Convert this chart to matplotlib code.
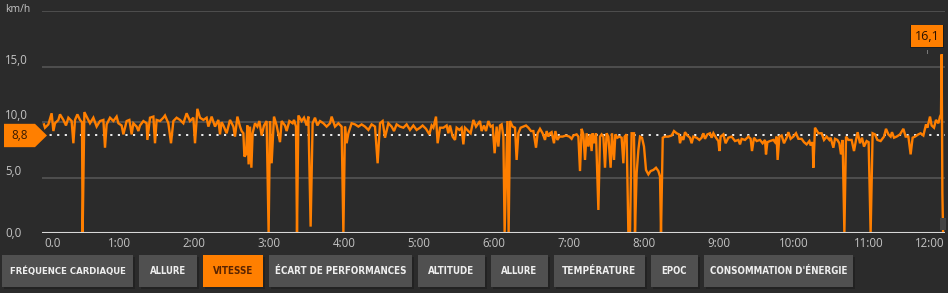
import numpy as np
import matplotlib
matplotlib.use("Agg")
import matplotlib.pyplot as plt
from matplotlib import font_manager
from matplotlib.patches import Rectangle, Polygon
from matplotlib.transforms import blended_transform_factory

# speed trace: time (s) and speed (km/h)
t_sec = [0, 0.8, 3.5, 6.1, 7.5, 8.8, 11.5, 12.8, 15.5, 17.6, 19.5, 22.1, 23.5, 24.8, 26.7, 28.8, 30.4, 30.9, 32.3, 34.1,
         36.8, 39.5, 42.1, 44.8, 47.5, 48.8, 50.1, 52.8, 55.5, 58.1, 59.5, 62.1, 63.5, 66.1, 68.3, 70.1, 71.5, 74.1, 75.5, 76.8,
         79.5, 82.1, 82.7, 84.8, 87.5, 88.8, 90.1, 92.8, 95.5, 96.8, 99.5, 101.6, 103.5, 106.1, 108.8, 111.5, 114.1, 116.8, 119.5, 120.8,
         122.7, 124.8, 127.5, 130.1, 131.5, 134.1, 136.8, 139.5, 140.8, 142.1,
         143.5, 146.1, 148.8, 151.5, 152.8, 154.7, 156.8, 158.1, 159.5, 160.3, 161.6, 162.7, 163.7, 164.8, 165.9, 166.9, 168.8, 170.7,
         172.3, 174.1, 176.0, 178.1, 179.7, 180.8, 182.1, 184.0, 186.1, 188.8, 190.1, 192.8, 194.1, 196.3, 198.9, 200.0, 201.6, 202.4,
         203.5, 206.1, 208.0, 210.1, 211.5, 213.3, 214.9, 216.8, 218.7, 220.8, 223.5, 226.1, 228.8, 230.1, 232.8, 235.5, 238.1, 239.5,
         240.8, 242.1, 243.5, 246.1, 248.8, 251.5, 254.1, 256.8, 259.5, 262.1, 264.8, 266.9, 268.8, 270.9, 272.8, 275.5, 278.1, 280.0,
         282.1, 284.8, 287.5,
         290.1, 292.8, 295.5, 298.1, 300.8, 302.9, 305.6, 308.3, 310.1, 311.5, 313.6, 314.9, 316.8, 319.5, 322.1, 323.5, 324.8, 326.9,
         328.8, 330.1, 332.3, 334.1, 335.5, 336.8, 339.5, 341.3, 343.5, 345.6, 348.8, 350.1, 352.0, 353.6, 355.5, 357.3, 358.9, 360.5,
         362.1, 363.5, 364.8, 366.1, 367.5, 368.5, 369.6, 370.7, 371.7, 372.8, 374.9, 376.8, 378.1, 379.5, 381.3, 383.5, 385.6, 387.5,
         389.6, 391.5, 393.6, 394.9, 396.8, 398.9, 400.8, 402.1, 403.5, 404.8, 406.1, 408.0, 409.1, 410.7, 412.3, 414.9, 417.6, 420.3,
         422.1, 423.5, 426.1, 427.5, 428.8, 430.1,
         431.5, 432.8, 434.1, 435.5, 436.8, 438.1, 438.9, 440.0, 441.6, 443.5, 444.8, 446.1, 447.5, 448.8, 450.1, 451.5, 453.3, 454.4,
         456.0, 457.1, 458.7, 460.3, 462.1, 463.5, 464.5, 466.1, 467.5, 468.8, 470.1, 472.0, 472.8, 474.1, 475.5, 476.8, 478.4, 480.0,
         481.6, 483.5, 485.3, 487.5, 489.6, 491.5, 492.8, 493.6, 495.0, 496.8, 499.5, 502.1, 504.0, 506.1, 508.0, 508.8, 510.1, 511.5,
         512.8, 514.7, 516.8, 518.1, 519.5, 522.1, 524.3, 526.1, 527.5, 528.8, 530.7, 532.8, 534.1, 535.5, 537.6, 539.5, 540.3, 541.3,
         543.5, 545.3, 547.5, 550.1, 552.8, 555.5, 556.8, 558.1, 560.8, 563.5, 565.3, 566.4, 568.0, 570.1, 572.8,
         574.9, 576.8, 577.6, 578.7, 580.8, 583.5, 584.8, 586.1, 586.9, 588.3, 590.1, 592.0, 594.1, 595.5, 597.3, 599.5, 601.6, 603.5,
         606.1, 608.0, 610.1, 612.3, 613.3, 614.9, 615.5, 616.8, 619.5, 622.1, 624.0, 626.1, 628.3, 629.3, 631.5, 632.8, 634.7, 636.3,
         637.6, 638.9, 640.3, 641.6, 643.5, 646.1, 648.0, 649.6, 650.9, 652.8, 654.4, 656.0, 658.1, 659.7, 661.3, 662.9, 664.8, 666.7,
         669.3, 672.0, 673.6, 675.5, 677.3, 678.4, 680.0, 682.1, 684.8, 687.5, 689.3, 691.5, 693.3, 694.9, 696.8, 699.5, 701.3, 703.5,
         705.6, 706.7, 708.8, 710.1, 712.0, 713.6, 715.5, 716.8, 717.6, 718.1, 718.7, 719.3]
speed = [9.8, 9.5, 9.8, 10.8, 9.2, 9.9, 10.2, 10.7, 10.2, 9.7, 10.4, 10.1, 8.1, 10.2, 10.7, 10.2, 10.0, 0.0, 10.9, 10.5,
         9.9, 10.4, 9.6, 10.1, 10.2, 7.7, 9.8, 10.4, 10.1, 10.5, 9.9, 9.7, 8.9, 10.1, 10.2, 8.9, 9.9, 9.6, 9.2, 9.7,
         10.1, 9.9, 8.4, 10.4, 10.5, 8.1, 10.2, 10.1, 10.4, 10.6, 9.9, 8.1, 10.1, 10.4, 10.2, 9.9, 10.8, 10.1, 10.4, 8.1,
         11.2, 10.4, 10.2, 10.4, 9.6, 10.5, 9.6, 10.2, 8.9, 10.0,
         9.7, 9.0, 10.2, 9.6, 8.7, 10.5, 9.6, 9.2, 9.0, 6.9, 7.1, 9.7, 6.2, 9.6, 5.9, 9.0, 9.9, 9.6,
         10.1, 8.8, 9.7, 10.1, 0.0, 10.1, 6.3, 10.5, 9.7, 8.2, 10.1, 9.7, 9.2, 10.1, 9.9, 10.2, 9.6, 0.0,
         10.6, 10.1, 10.4, 9.7, 10.5, 0.6, 9.9, 10.4, 9.7, 10.1, 9.9, 9.6, 9.9, 10.5, 9.6, 9.9, 9.6, 0.0,
         9.6, 8.1, 9.0, 9.9, 9.8, 9.6, 9.8, 9.6, 9.3, 9.8, 9.6, 6.3, 9.9, 10.1, 8.6, 9.9, 9.6, 9.2,
         9.8, 9.6, 9.5,
         9.8, 9.3, 9.7, 9.3, 9.5, 9.7, 9.4, 8.9, 9.7, 9.5, 10.5, 8.1, 9.5, 9.5, 9.7, 9.0, 9.7, 8.7,
         8.4, 9.5, 9.3, 9.5, 8.0, 9.5, 9.2, 9.0, 10.2, 9.6, 10.1, 9.2, 9.7, 9.2, 10.1, 9.6, 9.7, 7.2,
         9.6, 7.8, 9.7, 9.8, 8.7, 0.0, 5.1, 10.1, 0.0, 10.1, 9.6, 9.5, 6.6, 9.0, 9.5, 9.6, 9.7, 9.5,
         9.2, 9.2, 7.7, 9.0, 9.4, 9.0, 8.4, 9.2, 8.7, 9.0, 9.1, 8.1, 9.2, 8.4, 8.7, 8.7, 8.8, 8.7,
         8.5, 8.8, 8.9, 8.7, 5.6, 9.4,
         8.9, 6.6, 9.0, 7.8, 8.9, 7.4, 9.0, 8.1, 9.0, 2.1, 8.7, 8.9, 8.7, 5.9, 9.0, 8.7, 5.9, 9.0,
         6.6, 8.9, 8.6, 8.7, 8.6, 6.3, 8.7, 8.9, 0.0, 0.0, 9.0, 9.0, 0.0, 5.4, 7.5, 8.7, 8.6, 7.8,
         5.7, 5.3, 5.6, 5.7, 5.9, 5.6, 5.1, 0.0, 8.6, 8.7, 8.7, 8.8, 9.2, 9.0, 8.9, 8.1, 8.7, 8.4,
         9.1, 8.8, 8.6, 8.1, 8.7, 8.6, 8.4, 8.6, 9.0, 8.5, 8.9, 9.0, 8.6, 9.0, 8.6, 8.3, 7.4, 8.7,
         8.9, 8.1, 8.6, 8.7, 8.3, 8.4, 8.0, 8.5, 8.4, 8.7, 8.5, 7.4, 8.6, 8.3, 8.4,
         8.1, 8.4, 7.1, 8.2, 8.3, 8.4, 8.2, 8.7, 6.6, 8.7, 8.8, 8.1, 8.6, 9.1, 8.5, 8.7, 9.0, 8.5,
         8.5, 8.2, 8.0, 8.3, 7.9, 8.2, 5.9, 9.5, 9.0, 9.0, 8.4, 8.7, 8.4, 8.6, 7.7, 8.5, 8.4, 8.1,
         7.1, 8.4, 0.0, 8.7, 8.4, 8.4, 7.4, 8.4, 9.1, 8.1, 8.6, 7.8, 8.3, 8.2, 0.0, 9.0, 8.9, 8.4,
         8.3, 8.7, 9.4, 8.9, 8.7, 9.1, 8.6, 8.7, 8.9, 9.4, 8.7, 8.7, 7.1, 8.6, 8.7, 8.9, 9.0, 8.8,
         9.8, 9.5, 10.5, 9.7, 9.5, 10.2, 9.9, 10.5, 10.7, 16.1, 3.6, 0.0]

avg_speed = 8.8
y_ticks = [0, 5, 10, 15]
y_labels = ["0,0", "5,0", "10,0", "15,0"]
x_ticks = [0, 60, 120, 180, 240, 300, 360, 420, 480, 540, 600, 660, 720]
x_labels = ["0.0", "1:00", "2:00", "3:00", "4:00", "5:00", "6:00", "7:00", "8:00", "9:00", "10:00", "11:00", "12:00"]
buttons = ["FRÉQUENCE CARDIAQUE", "ALLURE", "VITESSE", "ÉCART DE PERFORMANCES", "ALTITUDE",
           "ALLURE", "TEMPÉRATURE", "EPOC", "CONSOMMATION D'ÉNERGIE"]
active_button = "VITESSE"

W, H = 948, 293
BG = "#2b2b2b"
ORANGE = "#ff7f00"
GRID = "#555555"
LABEL = "#c4c4c4"

names = {f.name for f in font_manager.fontManager.ttflist}
narrow = "Liberation Sans Narrow" if "Liberation Sans Narrow" in names else "DejaVu Sans"

fig = plt.figure(figsize=(W / 100, H / 100), dpi=100, facecolor=BG)
ax = fig.add_axes([42 / W, (H - 233.3) / H, (945 - 42) / W, (233.3 - 11) / H])
ax.set_facecolor(BG)
ax.set_xlim(-1.6, 720.8)
ax.set_ylim(0, 20)
for s in ax.spines.values():
    s.set_visible(False)

for v in [5, 10, 15, 20]:
    ax.axhline(v, color=GRID, lw=1.2, zorder=1)
ax.axhline(0, color="#d8d8d8", lw=1.5, zorder=4)
ax.axhline(avg_speed, color="white", lw=1.3, ls=(0, (1.2, 3)), zorder=2)

ax.plot(t_sec, speed, color=ORANGE, lw=1.7, zorder=3, solid_joinstyle="miter")

ax.set_xticks(x_ticks)
ax.set_xticklabels(x_labels, color=LABEL, fontsize=8.3, family="Open Sans")
ax.tick_params(axis="x", length=0, pad=3)
xl = ax.get_xticklabels()
xl[0].set_ha("left")
xl[-1].set_ha("right")
ax.set_yticks([])

# y labels drawn at the left edge of the figure
ytr = blended_transform_factory(fig.transFigure, ax.transData)
for v, lab in zip(y_ticks, y_labels):
    ax.text(5 / W, v, lab, transform=ytr, color=LABEL, fontsize=8.3, family="Open Sans",
            ha="left", va="bottom" if v > 0 else "center")
fig.text(5 / W, (H - 10) / H, "km/h", color=LABEL, fontsize=7.5, family="Open Sans", ha="left", va="center")

# average tag on the left
pts = [(4 / W, avg_speed + 1.05), (35 / W, avg_speed + 1.05), (47 / W, avg_speed),
       (35 / W, avg_speed - 1.05), (4 / W, avg_speed - 1.05)]
ax.add_patch(Polygon(pts, closed=True, transform=ytr, facecolor=ORANGE, edgecolor="none",
                     clip_on=False, zorder=6))
ax.text(20 / W, avg_speed, f"{avg_speed:.1f}".replace(".", ","), transform=ytr,
        color="#3a1a00", fontsize=8.5, family="Open Sans", ha="center", va="center", zorder=7)

# max tag on the right
imax = int(np.argmax(speed))
vmax = speed[imax]
fig.add_artist(Rectangle((910 / W, (H - 48) / H), 34 / W, 23 / H, transform=fig.transFigure,
                         facecolor="#1e1e1e", edgecolor="none"))
fig.add_artist(Rectangle((911 / W, (H - 47) / H), 32 / W, 22 / H, transform=fig.transFigure,
                         facecolor=ORANGE, edgecolor="none"))
fig.text(927 / W, (H - 36) / H, f"{vmax:.1f}".replace(".", ","), color="#2a1200", fontsize=9,
         family="Open Sans", ha="center", va="center")
fig.add_artist(Rectangle((926.5 / W, (H - 54) / H), 1.2 / W, 4 / H, transform=fig.transFigure,
                         facecolor="#777777", edgecolor="none"))
fig.add_artist(Rectangle((940 / W, (H - 230) / H), 6 / W, 12 / H, transform=fig.transFigure,
                         facecolor="#444444", edgecolor="none"))

# buttons row
btn_x = [2, 139, 203, 269, 418, 491, 554, 651, 704]
btn_w = [131, 58, 60, 143, 67, 57, 91, 47, 149]
btn_text_w = [105, 33, 36, 118, 42, 33, 66, 23, 124]
fig.canvas.draw()
rend = fig.canvas.get_renderer()
for bx, bw, tw, lab in zip(btn_x, btn_w, btn_text_w, buttons):
    active = lab == active_button
    fig.add_artist(Rectangle(((bx + 2) / W, (H - 289) / H), bw / W, 32 / H, transform=fig.transFigure,
                             facecolor="#222222", edgecolor="none"))
    fig.add_artist(Rectangle((bx / W, (H - 287) / H), bw / W, 32 / H, transform=fig.transFigure,
                             facecolor=ORANGE if active else "#505050", edgecolor="none"))
    t = fig.text((bx + bw / 2) / W, (H - 271) / H, lab, color="#5a2400" if active else "#eeeeee",
                 fontsize=9.5, family=narrow, fontstretch="condensed", weight="bold", ha="center", va="center")
    w = t.get_window_extent(rend).width
    if w > tw * 1.12:
        t.set_fontsize(max(6.5, 9.5 * tw * 1.12 / w))

fig.savefig("out.png", dpi=100, facecolor=BG)
